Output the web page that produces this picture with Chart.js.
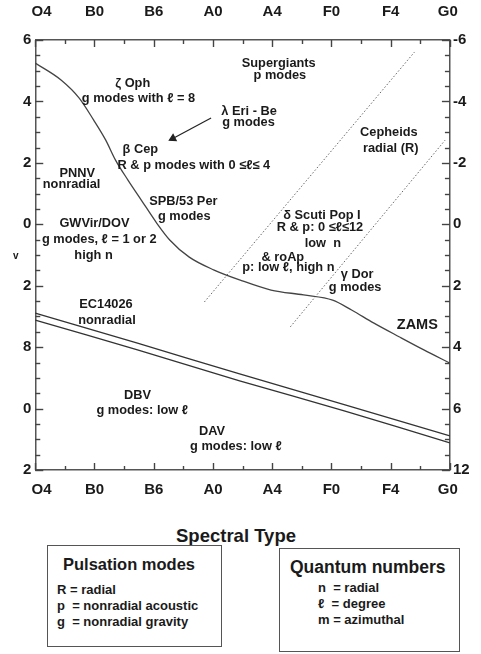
<!DOCTYPE html>
<html>
<head>
<meta charset="utf-8">
<script src="https://cdn.jsdelivr.net/npm/chart.js@4.4.1/dist/chart.umd.min.js"></script>
<style>
  body { margin: 0; background: #fff; font-family: "Liberation Sans", Arial, sans-serif; color: #1a1a1a; }
  #wrap { position: relative; width: 481px; height: 654px; overflow: hidden; }
  #hr { position: absolute; left: 0; top: 0; }
  .txt { position: absolute; font-weight: bold; white-space: nowrap; }
  .box { position: absolute; border: 1.5px solid #555; box-sizing: border-box; }
</style>
</head>
<body>
<div id="wrap">
  <canvas id="hr" width="481" height="510"></canvas>
  <div class="txt" style="left:13px; top:250px; font-size:10px;">v</div>
  <div class="txt" style="left:0; width:472px; top:525px; font-size:18.5px; text-align:center;">Spectral Type</div>
  <div class="box" style="left:47px; top:545px; width:175px; height:102px;"></div>
  <div class="txt" style="left:63px; top:555px; font-size:16.5px;">Pulsation modes</div>
  <div class="txt" style="left:57px; top:582px; font-size:13px; line-height:16px;">R = radial<br>p&nbsp; = nonradial acoustic<br>g&nbsp; = nonradial gravity</div>
  <div class="box" style="left:279px; top:548px; width:181px; height:104px;"></div>
  <div class="txt" style="left:290px; top:557px; font-size:17.5px;">Quantum numbers</div>
  <div class="txt" style="left:318px; top:580px; font-size:13px; line-height:16px;">n&nbsp; = radial<br>ℓ&nbsp; = degree<br>m = azimuthal</div>
</div>
<script>
// spektralklasser längs x-axeln (O4 = 0 ... G0 = 7)
const spectralTypes = ['O4', 'B0', 'B6', 'A0', 'A4', 'F0', 'F4', 'G0'];
const rightTickLabels = ['-6', '-4', '-2', '0', '2', '4', '6', '12'];
const leftTickLabels = ['6', '4', '2', '0', '2', '8', '0', '2'];

// nollålders-huvudserien (ZAMS)
const zamsX = [0, 0.435, 0.742, 0.984, 1.19, 1.355, 1.565, 1.79, 2.05, 2.27, 2.60, 3.02, 3.45, 3.98, 4.53, 5.02, 5.34, 5.71, 6.15, 6.56, 7.0];
const zamsY = [-5.25, -4.70, -4.11, -3.40, -2.74, -2.09, -1.44, -0.79, -0.04, 0.51, 1.07, 1.49, 1.81, 2.14, 2.30, 2.47, 2.79, 3.21, 3.67, 4.09, 4.52];

// vita dvärgar, dubbellinjen
const wdX = [0, 1.726, 3.45, 5.23, 7];
const wdUpperY = [2.89, 3.87, 4.87, 5.88, 6.89];
const wdLowerY = [3.12, 4.09, 5.10, 6.08, 7.12];

// instabilitetsremsan (prickade kanter)
const blueEdgeX = [2.855, 6.403];
const blueEdgeY = [2.53, -5.61];
const redEdgeX = [4.306, 6.919];
const redEdgeY = [3.34, -2.74];

// pilen från λ Eri mot β Cep
const arrowX = [2.968, 2.323];
const arrowY = [-3.46, -2.793];

// etiketter i diagrammet: [text, x, y]
const notes = [
  ['Supergiants', 4.11, -5.25], ['p modes', 4.13, -4.83],
  ['ζ Oph', 1.645, -4.60], ['g modes with ℓ = 8', 1.742, -4.11],
  ['λ Eri - Be', 3.61, -3.66], ['g modes', 3.60, -3.30],
  ['β Cep', 1.774, -2.42], ['R & p modes with 0 ≤ℓ≤ 4', 2.677, -1.93],
  ['PNNV', 0.71, -1.67], ['nonradial', 0.613, -1.31],
  ['SPB/53 Per', 2.5, -0.73], ['g modes', 2.516, -0.27],
  ['GWVir/DOV', 1.0, -0.04], ['g modes, ℓ = 1 or 2', 1.08, 0.51], ['high n', 0.984, 1.0],
  ['δ Scuti Pop I', 4.84, -0.30], ['R & p: 0 ≤ℓ≤12', 4.806, 0.12], ['low  n', 4.855, 0.61],
  ['& roAp', 4.18, 1.065], ['p: low ℓ, high n', 4.274, 1.39],
  ['γ Dor', 5.435, 1.65], ['g modes', 5.40, 2.07],
  ['Cepheids', 5.97, -3.0], ['radial (R)', 6.0, -2.48],
  ['EC14026', 1.194, 2.60], ['nonradial', 1.21, 3.12],
  ['DBV', 1.726, 5.56], ['g modes: low ℓ', 1.806, 6.05],
  ['DAV', 2.984, 6.76], ['g modes: low ℓ', 3.387, 7.22]
];
const bigNotes = [['ZAMS', 6.45, 3.28]];

const FONT = '"Liberation Sans", Arial, sans-serif';
const pts = (xs, ys) => xs.map((x, i) => ({ x, y: ys[i] }));

// ritar tickmarkeringar inåt mot diagramytan, samt texterna
const innerTicks = {
  id: 'innerTicks',
  afterDraw(chart) {
    const { ctx, chartArea: a, scales } = chart;
    ctx.save();
    ctx.setLineDash([]);
    ctx.strokeStyle = '#444';
    ctx.lineWidth = 1.4;
    const seg = (x1, y1, x2, y2) => { ctx.beginPath(); ctx.moveTo(x1, y1); ctx.lineTo(x2, y2); ctx.stroke(); };
    for (let v = 0; v <= 7; v += 0.5) {
      const px = Math.round(scales.x.getPixelForValue(v)) + 0.5;
      const len = v % 1 === 0 ? 7 : 4;
      seg(px, a.top, px, a.top + len);
      seg(px, a.bottom, px, a.bottom - len);
    }
    for (let v = -6; v <= 8; v += 0.5) {
      const py = Math.round(scales.y.getPixelForValue(v)) + 0.5;
      const len = v % 2 === 0 ? 8 : 5;
      seg(a.left, py, a.left + len, py);
      seg(a.right, py, a.right - len, py);
    }
    ctx.fillStyle = '#1a1a1a';
    ctx.textAlign = 'center';
    ctx.textBaseline = 'middle';
    ctx.font = 'bold 12.8px ' + FONT;
    notes.forEach(([t, x, y]) => ctx.fillText(t, scales.x.getPixelForValue(x), scales.y.getPixelForValue(y)));
    ctx.font = 'bold 14.5px ' + FONT;
    bigNotes.forEach(([t, x, y]) => ctx.fillText(t, scales.x.getPixelForValue(x), scales.y.getPixelForValue(y)));
    ctx.restore();
  }
};

const tickFont = { family: FONT, size: 15, weight: 'bold' };
const border = { display: true, color: '#555', width: 1.5 };

function xScale(position, pad, height) {
  return {
    type: 'linear', position, min: 0, max: 7,
    grid: { display: false, drawTicks: false }, border,
    ticks: {
      stepSize: 1, padding: pad, color: '#1a1a1a', font: tickFont, maxRotation: 0, autoSkip: false,
      callback: v => {
        const s = spectralTypes[v];
        if (v === 0) return '\u00a0\u00a0\u00a0' + s;
        if (v === 7) return s + '\u00a0';
        return s;
      }
    },
    afterFit: s => { s.height = height; }
  };
}
function yScale(position, labels, pad, width) {
  return {
    type: 'linear', position, min: -6, max: 8, reverse: true,
    grid: { display: false, drawTicks: false }, border,
    ticks: {
      stepSize: 2, padding: pad, color: '#1a1a1a', font: tickFont, autoSkip: false,
      callback: v => labels[(v + 6) / 2]
    },
    afterFit: s => { s.width = width; }
  };
}

new Chart(document.getElementById('hr'), {
  type: 'scatter',
  data: {
    datasets: [
      { data: pts(zamsX, zamsY), showLine: true, borderColor: '#444', borderWidth: 1.3, pointRadius: 0, cubicInterpolationMode: 'monotone' },
      { data: pts(wdX, wdUpperY), showLine: true, borderColor: '#333', borderWidth: 1.3, pointRadius: 0, tension: 0.3 },
      { data: pts(wdX, wdLowerY), showLine: true, borderColor: '#333', borderWidth: 1.3, pointRadius: 0, tension: 0.3 },
      { data: pts(blueEdgeX, blueEdgeY), showLine: true, borderColor: '#666', borderWidth: 1, borderDash: [1.5, 2], pointRadius: 0 },
      { data: pts(redEdgeX, redEdgeY), showLine: true, borderColor: '#666', borderWidth: 1, borderDash: [1.5, 2], pointRadius: 0 },
      { data: pts(arrowX, arrowY), showLine: true, borderColor: '#222', borderWidth: 1.2,
        pointRadius: [0, 4], pointStyle: 'triangle', rotation: [0, 243], backgroundColor: '#222', pointBorderColor: '#222' }
    ]
  },
  options: {
    responsive: false,
    devicePixelRatio: 1,
    animation: false,
    layout: { padding: 0 },
    plugins: { legend: { display: false }, tooltip: { enabled: false } },
    scales: {
      x: xScale('bottom', 11, 40),
      x2: xScale('top', 19, 40),
      y: yScale('left', leftTickLabels, 4, 26),
      y2: yScale('right', rightTickLabels, 3, 21)
    }
  },
  plugins: [innerTicks]
});
</script>
</body>
</html>
